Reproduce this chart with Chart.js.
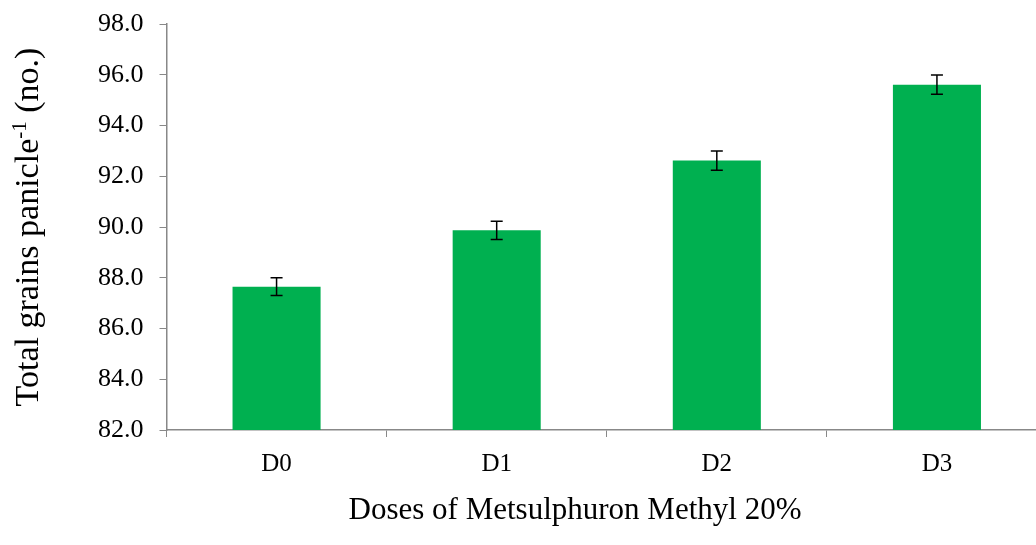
<!DOCTYPE html>
<html>
<head>
<meta charset="utf-8">
<script src="https://cdn.jsdelivr.net/npm/chart.js@4"></script>
<style>
  html, body { margin: 0; padding: 0; background: #fff; overflow: hidden; }
  #wrap { width: 1047px; height: 545px; }
</style>
</head>
<body>
<div id="wrap"><canvas id="myChart"></canvas></div>
<script>
// data
var doses = ['D0', 'D1', 'D2', 'D3'];
var grains = [87.65, 89.87, 92.62, 95.61];
var grainsErr = [0.35, 0.36, 0.38, 0.38];
var yTicks = [82, 84, 86, 88, 90, 92, 94, 96, 98];

var serif = "'Liberation Serif', 'Times New Roman', serif";

// draws the error bars through the y scale
var errorBars = {
    id: 'errorBars',
    afterDatasetsDraw: function (chart) {
        var ctx = chart.ctx;
        var y = chart.scales.y;
        var meta = chart.getDatasetMeta(0);
        ctx.save();
        ctx.strokeStyle = '#000';
        ctx.lineWidth = 1.5;
        meta.data.forEach(function (bar, i) {
            var top = y.getPixelForValue(grains[i] + grainsErr[i]);
            var bot = y.getPixelForValue(grains[i] - grainsErr[i]);
            var cap = 6;
            ctx.beginPath();
            ctx.moveTo(bar.x, top); ctx.lineTo(bar.x, bot);
            ctx.moveTo(bar.x - cap, top); ctx.lineTo(bar.x + cap, top);
            ctx.moveTo(bar.x - cap, bot); ctx.lineTo(bar.x + cap, bot);
            ctx.stroke();
        });
        ctx.restore();
    }
};

// axis titles (y one needs a real superscript)
var axisTitles = {
    id: 'axisTitles',
    afterDraw: function (chart) {
        var ctx = chart.ctx;
        var area = chart.chartArea;
        var parts = [
            { t: 'Total grains panicle', size: 34, rise: 0 },
            { t: '-1', size: 21, rise: 12 },
            { t: ' (no.)', size: 34, rise: 0 }
        ];
        var total = 0;
        parts.forEach(function (p) {
            ctx.font = p.size + 'px ' + serif;
            p.w = ctx.measureText(p.t).width;
            total += p.w;
        });
        ctx.save();
        ctx.fillStyle = '#000';
        ctx.translate(38, (area.top + area.bottom) / 2);
        ctx.rotate(-Math.PI / 2);
        ctx.textBaseline = 'alphabetic';
        var x = -total / 2;
        parts.forEach(function (p) {
            ctx.font = p.size + 'px ' + serif;
            ctx.fillText(p.t, x, -p.rise);
            x += p.w;
        });
        ctx.restore();

        ctx.save();
        ctx.fillStyle = '#000';
        ctx.font = '31px ' + serif;
        ctx.textAlign = 'center';
        ctx.textBaseline = 'middle';
        ctx.fillText('Doses of Metsulphuron Methyl 20%', 575, 511);
        ctx.restore();
    }
};

var ctx = document.getElementById('myChart').getContext('2d');
var chart = new Chart(ctx, {
    type: 'bar',
    data: {
        labels: doses,
        datasets: [{
            label: 'Total grains panicle-1',
            backgroundColor: '#00B050',
            data: grains,
            categoryPercentage: 1.0,
            barPercentage: 0.4
        }]
    },
    options: {
        responsive: true,
        maintainAspectRatio: false,
        animation: false,
        layout: { padding: { left: 82, top: 24, right: 0, bottom: 54 } },
        plugins: {
            legend: { display: false },
            tooltip: { enabled: false }
        },
        scales: {
            x: {
                grid: { drawOnChartArea: false, drawTicks: true, tickLength: 7, color: '#888' },
                border: { color: '#888', width: 1.5 },
                ticks: { color: '#000', font: { family: serif, size: 25 }, padding: 12 }
            },
            y: {
                min: 82,
                max: 98,
                afterBuildTicks: function (axis) {
                    axis.ticks = yTicks.map(function (v) { return { value: v }; });
                },
                grid: { drawOnChartArea: false, drawTicks: true, tickLength: 7, color: '#888' },
                border: { color: '#888', width: 1.5 },
                ticks: {
                    color: '#000',
                    font: { family: serif, size: 26, lineHeight: 0.6 },
                    padding: 16,
                    callback: function (v) { return Number(v).toFixed(1); }
                }
            }
        }
    },
    plugins: [errorBars, axisTitles]
});
</script>
</body>
</html>
